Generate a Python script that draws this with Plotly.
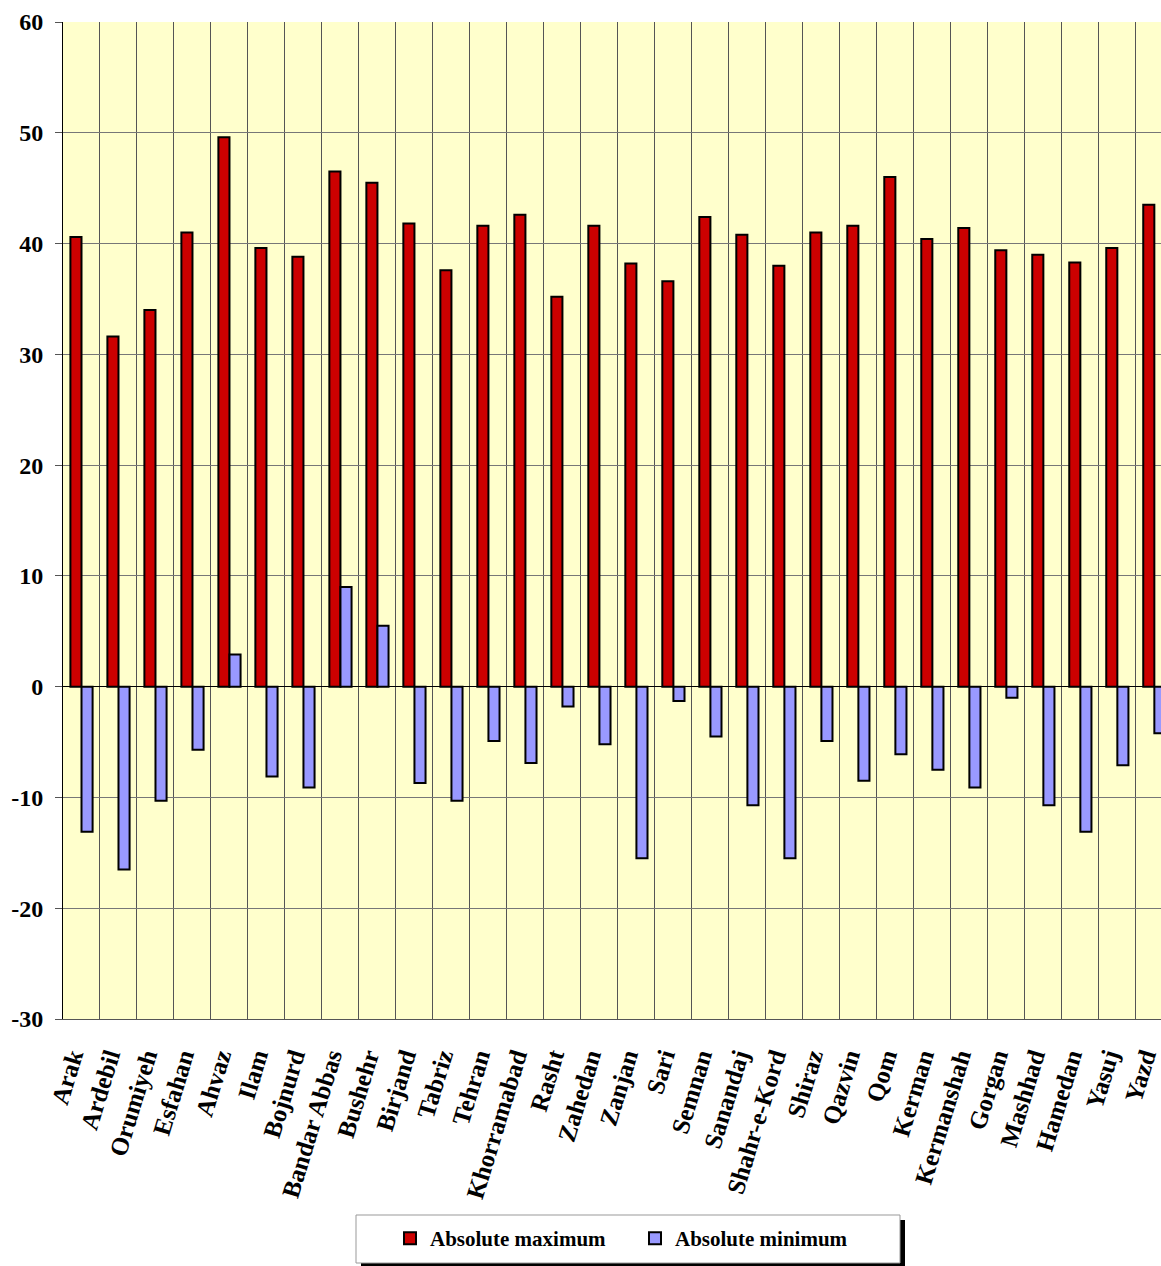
import plotly.graph_objects as go

cities = ["Arak", "Ardebil", "Orumiyeh", "Esfahan", "Ahvaz", "Ilam", "Bojnurd",
          "Bandar Abbas", "Bushehr", "Birjand", "Tabriz", "Tehran", "Khorramabad",
          "Rasht", "Zahedan", "Zanjan", "Sari", "Semnan", "Sanandaj", "Shahr-e-Kord",
          "Shiraz", "Qazvin", "Qom", "Kerman", "Kermanshah", "Gorgan", "Mashhad",
          "Hamedan", "Yasuj", "Yazd"]
abs_max = [40.6, 31.6, 34.0, 41.0, 49.6, 39.6, 38.8, 46.5, 45.5, 41.8, 37.6, 41.6,
           42.6, 35.2, 41.6, 38.2, 36.6, 42.4, 40.8, 38.0, 41.0, 41.6, 46.0, 40.4,
           41.4, 39.4, 39.0, 38.3, 39.6, 43.5]
abs_min = [-13.1, -16.5, -10.3, -5.7, 2.9, -8.1, -9.1, 9.0, 5.5, -8.7, -10.3, -4.9,
           -6.9, -1.8, -5.2, -15.5, -1.3, -4.5, -10.7, -15.5, -4.9, -8.5, -6.1, -7.5,
           -9.1, -1.0, -10.7, -13.1, -7.1, -4.2]
y_ticks = [-30, -20, -10, 0, 10, 20, 30, 40, 50, 60]
y_tick_text = [str(v) for v in y_ticks]

font_family = "Liberation Serif, Times New Roman, serif"

# page geometry helpers (plot area spans 63..1161 px horizontally, 22..1019 px vertically)
PLOT_L, PLOT_W, PLOT_B, PLOT_H = 63, 1098, 1019, 997


def px_x(p):
    return (p - PLOT_L) / PLOT_W


def px_y(p):
    return (PLOT_B - p) / PLOT_H


fig = go.Figure()
fig.add_trace(go.Bar(name="Absolute maximum", x=cities, y=abs_max,
                     marker=dict(color="#CC0000", line=dict(color="black", width=2))))
fig.add_trace(go.Bar(name="Absolute minimum", x=cities, y=abs_min,
                     marker=dict(color="#9999FF", line=dict(color="black", width=2))))

# legend frame with drop shadow
fig.add_shape(type="rect", xref="paper", yref="paper",
              x0=px_x(361), x1=px_x(905), y0=px_y(1270), y1=px_y(1220),
              fillcolor="black", line=dict(width=0), layer="above")
fig.add_shape(type="rect", xref="paper", yref="paper",
              x0=px_x(356), x1=px_x(900), y0=px_y(1263), y1=px_y(1215),
              fillcolor="white", line=dict(color="#999999", width=1), layer="above")

fig.update_layout(
    width=1161, height=1266,
    margin=dict(l=63, r=0, t=22, b=247, autoexpand=False),
    paper_bgcolor="white",
    plot_bgcolor="#FFFFCC",
    barmode="group",
    bargap=0.40,
    bargroupgap=0.0,
    font=dict(family=font_family, size=20, color="black", weight="bold"),
    legend=dict(orientation="h", x=px_x(390), xanchor="left", y=px_y(1218), yanchor="top",
                bgcolor="rgba(0,0,0,0)", borderwidth=0,
                font=dict(family=font_family, size=21, color="black", weight="bold"),
                itemwidth=30, entrywidth=200, itemsizing="constant"),
    showlegend=True,
)
fig.update_xaxes(
    type="category",
    range=[-0.5, 29.18],
    tickson="boundaries",
    showgrid=True, gridcolor="#555555", gridwidth=1,
    showline=True, linecolor="#555555", linewidth=1,
    ticks="", tickangle=-73,
    ticklabelstandoff=12, ticklabelshift=-10,
    tickfont=dict(family=font_family, size=25, color="black", weight="bold"),
)
fig.update_yaxes(
    range=[-30, 60],
    tickvals=y_ticks, ticktext=y_tick_text,
    showgrid=True, gridcolor="#777777", gridwidth=1,
    zeroline=True, zerolinecolor="black", zerolinewidth=1,
    showline=True, linecolor="black", linewidth=1,
    ticks="outside", ticklen=7, tickcolor="#555555",
    tickfont=dict(family=font_family, size=24, color="black", weight="bold"),
    ticklabelstandoff=7,
)

fig.write_html("out.html",
               config={"displayModeBar": False},
               post_script="document.body.style.margin='0px';document.body.style.overflow='hidden';")
